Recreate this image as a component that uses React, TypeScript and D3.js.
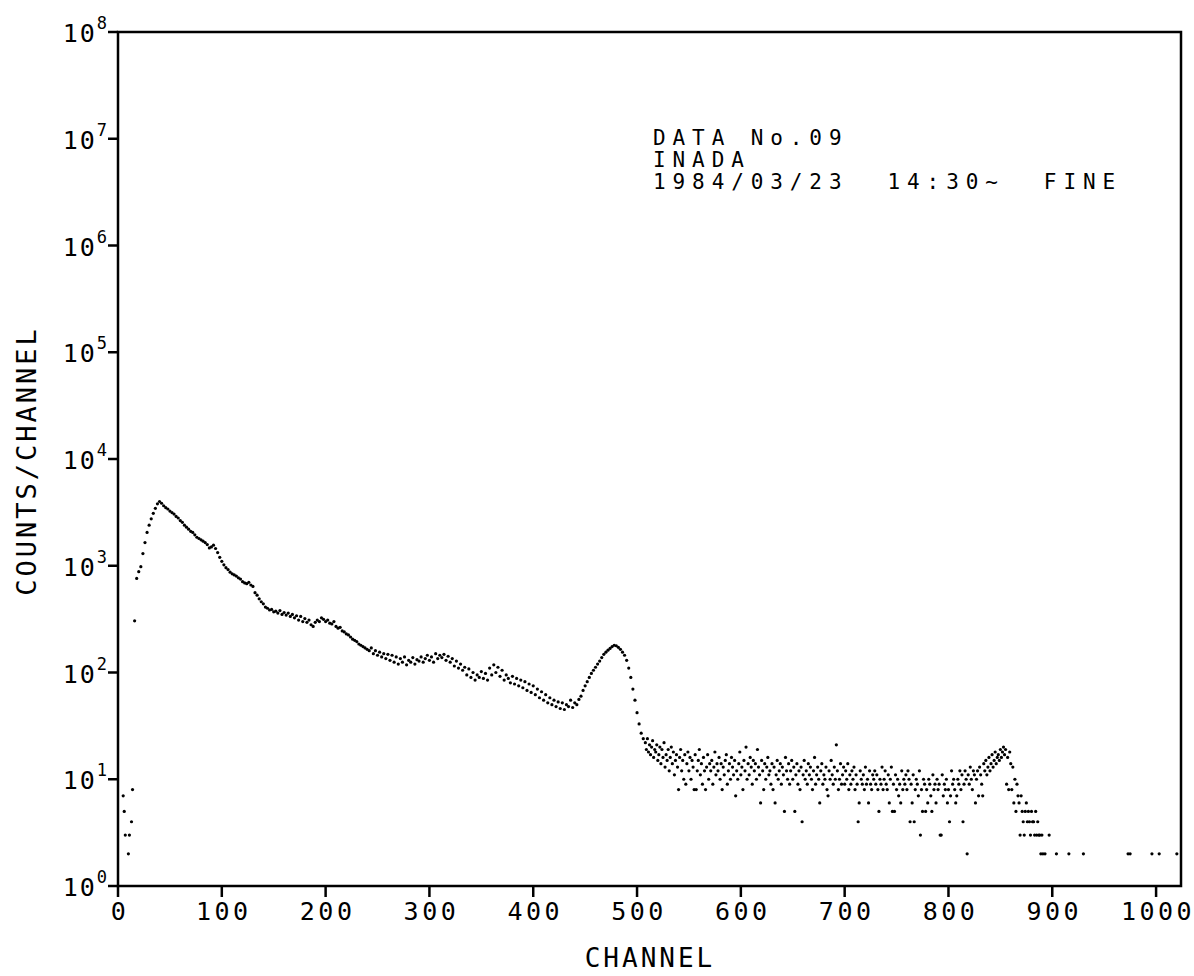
import { useEffect, useRef } from "react"
import * as d3 from "d3"

// lowest channels, read one by one
const lowChannels = [5, 6, 7, 10, 11, 13, 14, 16]
const lowCounts = [7, 5, 3, 2, 3, 4, 8, 305]

// counts for channels 18, 20, 22 ... 506
const mainCounts = [
  760, 880, 980, 1300, 1650, 2050, 2400, 2750, 3100, 3450, 3800, 4000,
  3850, 3650, 3500, 3400, 3250, 3150, 3050, 2900, 2800, 2650, 2550, 2400, 2300, 2200, 2100,
  2050, 1950, 1850, 1800, 1750, 1700, 1650, 1580, 1470, 1500, 1560, 1450, 1330, 1200, 1100,
  1020, 960, 920, 870, 840, 820, 800, 770, 750, 710, 690, 680, 700, 660, 640, 560, 530, 490,
  460, 440, 410, 400, 385, 390, 370,
  375, 360, 380, 350, 365, 345, 360, 335, 350, 325, 340, 310, 335, 300, 320, 295, 310, 280,
  270, 295, 310, 300, 325, 315, 300,
  310, 290, 285, 300, 270, 260, 265, 245, 240, 230, 225, 215, 205, 200, 195, 185, 180, 175,
  170, 165, 160, 170, 150, 160, 145,
  155, 140, 150, 135, 148, 130, 145, 125, 140, 120, 135, 125, 140, 118, 130, 125, 138, 120,
  132, 128, 140, 125, 135, 145, 130,
  140, 125, 150, 135, 145, 138, 148, 130, 142, 125, 135, 115, 128, 110, 120, 105, 112, 95,
  108, 90, 100, 85, 95, 90, 102,
  88, 98, 85, 110, 95, 118, 100, 112, 92, 105, 85, 95, 88, 80, 92, 78, 88, 75, 85, 72, 82,
  68, 78, 65, 75,
  62, 70, 58, 66, 55, 62, 52, 58, 50, 55, 48, 53, 46, 52, 45, 50, 48, 55, 47, 52, 50, 56,
  60, 68, 75,
  82, 90, 98, 105, 112, 120, 128, 138, 148, 155, 162, 168, 175, 180, 178, 172, 165, 155,
  145, 130, 110, 90, 70, 55, 42,
  33, 27, 24,
]

// counts for every channel from 508 to 897
const tailCounts = [
  22, 19, 24, 18, 21, 17, 20, 23, 16, 19,
  18, 21, 15, 17, 20, 14, 19, 16, 22, 13,
  17, 15, 19, 12, 16, 20, 14, 18, 11, 15,
  17, 13, 8, 16, 19, 12, 15, 10, 17, 9,
  14, 18, 12, 16, 10, 15, 13, 8, 17, 8,
  12, 15, 19, 11, 14, 9, 16, 12, 8, 13,
  17, 10, 14, 12, 15, 9, 13, 18, 11, 14,
  12, 16, 10, 14, 8, 13, 11, 15, 17, 9,
  12, 14, 10, 16, 13, 11, 15, 7, 12, 10,
  14, 18, 11, 13, 8, 15, 12, 20, 10, 14,
  11, 16, 13, 9, 15, 12, 14, 10, 19, 13,
  11, 6, 15, 12, 8, 14, 10, 13, 16, 11,
  12, 9, 14, 8, 13, 6, 11, 15, 10, 12,
  14, 9, 13, 11, 5, 16, 12, 10, 14, 9,
  12, 15, 10, 13, 5, 11, 14, 9, 12, 8,
  13, 4, 11, 15, 10, 12, 9, 14, 11, 13,
  10, 8, 12, 16, 9, 11, 13, 10, 6, 12,
  14, 9, 11, 10, 13, 8, 7, 12, 10, 15,
  11, 9, 13, 10, 21, 12, 8, 10, 14, 9,
  11, 13, 9, 12, 10, 14, 8, 11, 9, 12,
  10, 13, 8, 11, 9, 4, 6, 12, 10, 9,
  11, 8, 13, 9, 10, 6, 12, 9, 8, 11,
  10, 12, 9, 11, 8, 5, 10, 9, 13, 8,
  10, 12, 9, 8, 11, 6, 10, 13, 5, 9,
  5, 11, 8, 10, 7, 9, 6, 12, 8, 10,
  9, 11, 8, 12, 10, 4, 9, 6, 11, 4,
  8, 10, 9, 7, 12, 3, 8, 5, 10, 9,
  5, 8, 6, 10, 9, 7, 5, 11, 8, 9,
  6, 10, 8, 9, 3, 3, 11, 7, 9, 8,
  10, 6, 8, 4, 7, 12, 9, 10, 8, 6,
  7, 10, 9, 12, 8, 11, 4, 9, 12, 10,
  2, 11, 9, 13, 10, 8, 12, 11, 6, 10,
  12, 7, 13, 11, 9, 7, 14, 12, 15, 11,
  13, 16, 12, 14, 17, 13, 15, 18, 14, 16,
  17, 15, 19, 16, 18, 20, 17, 19, 9, 16,
  8, 18, 14, 8, 13, 6, 10, 5, 9, 7,
  6, 3, 7, 5, 4, 3, 5, 6, 4, 5,
  4, 3, 5, 4, 4, 3, 5, 3, 4, 3,
  3, 2, 3, 2, 0, 2, 0, 0, 0, 3,
]

// isolated dots past the end of the spectrum
const sparseChannels = [904, 916, 930, 973, 975, 996, 1003, 1020]
const sparseCounts = [2, 2, 2, 2, 2, 2, 2, 2]

const yTickExponents = [0, 1, 2, 3, 4, 5, 6, 7, 8]
const xTickValues = [0, 100, 200, 300, 400, 500, 600, 700, 800, 900, 1000]
const infoLines = ["DATA No.09", "INADA", "1984/03/23  14:30~  FINE"]

interface Point {
  channel: number
  count: number
}

const FONT = "'DejaVu Sans Mono', monospace"

export default function App() {
  const svgRef = useRef<SVGSVGElement>(null)

  useEffect(() => {
    if (!svgRef.current) return
    const svg = d3.select(svgRef.current)
    svg.selectAll("*").remove()

    const x = d3.scaleLinear().domain([0, 1024]).range([118, 1181])
    const y = d3.scaleLog().domain([1, 1e8]).range([886, 32])

    const points: Point[] = []
    lowChannels.forEach((c, i) => points.push({ channel: c, count: lowCounts[i] }))
    mainCounts.forEach((v, i) => points.push({ channel: 18 + i * 2, count: v }))
    tailCounts.forEach((v, i) => points.push({ channel: 508 + i, count: v }))
    sparseChannels.forEach((c, i) => points.push({ channel: c, count: sparseCounts[i] }))

    // frame
    svg
      .append("rect")
      .attr("x", x(0))
      .attr("y", y(1e8))
      .attr("width", x(1024) - x(0))
      .attr("height", y(1) - y(1e8))
      .attr("fill", "none")
      .attr("stroke", "#000")
      .attr("stroke-width", 2.5)

    // y ticks
    const yAxis = svg.append("g")
    yTickExponents.forEach(e => {
      const ty = y(Math.pow(10, e))
      yAxis
        .append("line")
        .attr("x1", x(0) - 10)
        .attr("x2", x(0))
        .attr("y1", ty)
        .attr("y2", ty)
        .attr("stroke", "#000")
        .attr("stroke-width", 2.5)
      const label = yAxis
        .append("text")
        .attr("x", 109)
        .attr("y", ty + 10)
        .attr("text-anchor", "end")
        .attr("font-family", FONT)
        .attr("font-size", 25)
        .attr("letter-spacing", 2)
      label.append("tspan").text("10")
      label
        .append("tspan")
        .attr("dy", -13)
        .attr("font-size", 17)
        .text(String(e))
    })

    // x ticks
    const xAxis = svg.append("g")
    xTickValues.forEach(v => {
      xAxis
        .append("line")
        .attr("x1", x(v))
        .attr("x2", x(v))
        .attr("y1", y(1))
        .attr("y2", y(1) + 11)
        .attr("stroke", "#000")
        .attr("stroke-width", 2.5)
      xAxis
        .append("text")
        .attr("x", x(v) + 2)
        .attr("y", 920)
        .attr("text-anchor", "middle")
        .attr("font-family", FONT)
        .attr("font-size", 25)
        .attr("letter-spacing", 3.5)
        .text(String(v))
    })

    // axis titles
    svg
      .append("text")
      .attr("x", 650)
      .attr("y", 967)
      .attr("text-anchor", "middle")
      .attr("font-family", FONT)
      .attr("font-size", 26)
      .attr("letter-spacing", 3)
      .text("CHANNEL")

    svg
      .append("text")
      .attr("transform", "translate(36,461) rotate(-90)")
      .attr("text-anchor", "middle")
      .attr("font-family", FONT)
      .attr("font-size", 27)
      .attr("letter-spacing", 3)
      .text("COUNTS/CHANNEL")

    // run info
    infoLines.forEach((line, i) => {
      svg
        .append("text")
        .attr("x", 653)
        .attr("y", 145 + i * 22)
        .attr("font-family", FONT)
        .attr("font-size", 21)
        .attr("letter-spacing", 6.9)
        .style("white-space", "pre")
        .text(line)
    })

    // spectrum dots
    svg
      .append("g")
      .selectAll("circle")
      .data(points.filter(p => p.count > 1))
      .enter()
      .append("circle")
      .attr("cx", d => x(d.channel))
      .attr("cy", d => y(d.count))
      .attr("r", 1.6)
      .attr("fill", "#000")
  }, [])

  return (
    <svg
      ref={svgRef}
      width={1194}
      height={976}
      style={{ position: "absolute", left: 0, top: 0, background: "#fff" }}
    />
  )
}
